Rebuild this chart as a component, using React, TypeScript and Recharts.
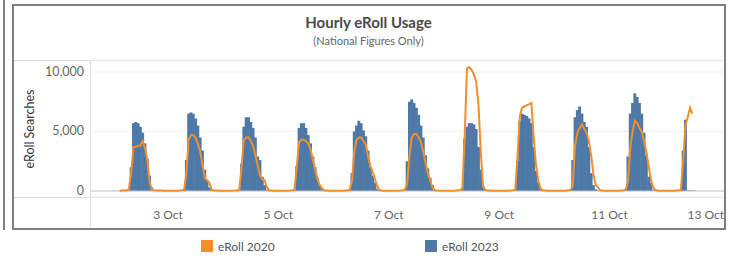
import { ComposedChart, Bar, Line, XAxis, YAxis, CartesianGrid, ReferenceLine } from 'recharts';

// one row per day, 24 hourly values (00:00 .. 23:00)
const dayLabels = ['2 Oct', '3 Oct', '4 Oct', '5 Oct', '6 Oct', '7 Oct', '8 Oct', '9 Oct', '10 Oct', '11 Oct', '12 Oct'];

const eRoll2023ByDay: number[][] = [
  [20, 15, 15, 15, 20, 30, 50, 120, 2000, 5700, 5800, 5700, 5400, 4900, 4000, 2700, 1300, 300, 80, 50, 40, 30, 30, 20],
  [15, 15, 15, 15, 20, 30, 50, 120, 2600, 6500, 6600, 6500, 6100, 5500, 4500, 3400, 1800, 900, 300, 100, 50, 40, 30, 20],
  [15, 15, 15, 15, 20, 30, 50, 120, 2300, 5400, 6200, 6200, 5800, 5300, 4500, 2900, 2600, 1200, 500, 100, 50, 40, 30, 20],
  [15, 15, 15, 15, 20, 30, 50, 120, 2100, 5300, 5700, 5700, 5300, 4700, 4000, 2900, 2000, 1100, 500, 150, 60, 40, 30, 20],
  [15, 15, 15, 15, 20, 30, 50, 120, 1500, 5000, 5500, 5900, 5700, 5100, 4600, 3400, 2000, 1300, 700, 150, 60, 40, 30, 20],
  [15, 15, 15, 15, 20, 30, 50, 120, 2500, 7500, 7700, 7400, 7000, 6400, 5500, 4500, 3000, 1900, 1100, 500, 100, 50, 30, 20],
  [15, 15, 15, 15, 20, 30, 50, 100, 300, 4400, 5400, 5700, 5700, 5600, 5200, 3700, 1800, 400, 80, 50, 40, 30, 30, 20],
  [15, 15, 15, 15, 20, 30, 50, 120, 2500, 5900, 6500, 6400, 6300, 6100, 5700, 3700, 1700, 700, 200, 60, 40, 30, 30, 20],
  [15, 15, 15, 15, 20, 30, 50, 120, 2600, 6200, 6800, 7100, 6500, 5800, 5400, 3700, 1500, 500, 150, 50, 40, 30, 30, 20],
  [15, 15, 15, 15, 20, 30, 50, 150, 2900, 6500, 7400, 8200, 7900, 7400, 6500, 4900, 3000, 1200, 700, 100, 50, 40, 30, 20],
  [15, 15, 15, 15, 20, 30, 50, 150, 3400, 6000, 60, 40, 40, 30],
];

const eRoll2020ByDay: (number | null)[][] = [
  [null, null, null, 30, 40, 50, 60, 150, 1500, 3700, 3700, 3800, 3800, 4200, 3600, 2600, 800, 100, 60, 50, 40, 40, 30, 30],
  [30, 30, 30, 30, 30, 40, 60, 100, 1500, 4300, 4700, 4700, 4500, 4000, 3300, 2200, 1100, 900, 700, 100, 50, 40, 30, 30],
  [30, 30, 30, 30, 30, 40, 60, 100, 2000, 4300, 4500, 4500, 4200, 3800, 3000, 2200, 1300, 1000, 900, 300, 50, 40, 30, 30],
  [30, 30, 30, 30, 30, 40, 60, 100, 2000, 4100, 4300, 4300, 4200, 4000, 3500, 2600, 1800, 1000, 500, 200, 50, 40, 30, 30],
  [30, 30, 30, 30, 30, 40, 60, 100, 800, 3300, 4300, 4500, 4500, 4200, 3900, 2900, 2100, 1600, 1000, 400, 80, 40, 30, 30],
  [30, 30, 30, 30, 30, 40, 60, 100, 600, 3000, 4500, 4800, 4800, 4500, 4100, 3300, 2400, 1500, 900, 300, 60, 40, 30, 30],
  [30, 30, 30, 30, 30, 40, 60, 80, 200, 4500, 10300, 10400, 10200, 9800, 9200, 7300, 3300, 400, 80, 50, 40, 30, 30, 30],
  [30, 30, 30, 30, 30, 40, 60, 100, 3000, 6300, 7000, 7100, 7200, 7300, 7400, 4600, 2200, 900, 200, 50, 40, 30, 30, 30],
  [30, 30, 30, 30, 30, 40, 60, 80, 400, 3800, 4900, 5300, 5600, 5200, 4900, 4200, 3000, 1400, 500, 300, 60, 40, 30, 30],
  [30, 30, 30, 30, 30, 40, 60, 100, 800, 3600, 5000, 5900, 5700, 5300, 5000, 4200, 3300, 2100, 900, 300, 80, 40, 30, 30],
  [30, 30, 30, 30, 30, 40, 60, 100, 2500, 5500, 6200, 7000, 6500],
];

const xTickHours = [24, 72, 120, 168, 216, 264];
const xTickLabels = ['3 Oct', '5 Oct', '7 Oct', '9 Oct', '11 Oct', '13 Oct'];
const yTicks = [0, 5000, 10000];

const ORANGE = '#f28e2b';
const BLUE = '#4e79a7';
const FONT = 'Lato, "Open Sans", sans-serif';

const rows: { hour: number; day: string; eRoll2023: number | null; eRoll2020: number | null }[] = [];
dayLabels.forEach((day, d) => {
  const len = Math.max(eRoll2023ByDay[d].length, eRoll2020ByDay[d].length);
  for (let h = 0; h < len; h++) {
    rows.push({
      hour: d * 24 + h,
      day,
      eRoll2023: eRoll2023ByDay[d][h] ?? null,
      eRoll2020: eRoll2020ByDay[d][h] ?? null,
    });
  }
});

const XTick = (props: any) => {
  const { x, payload } = props;
  const i = xTickHours.indexOf(payload.value);
  const last = i === xTickHours.length - 1;
  return (
    <text x={last ? 724 : x} y={219} textAnchor={last ? 'end' : 'middle'} fill="#666" fontSize={12} fontFamily={FONT}>
      {xTickLabels[i]}
    </text>
  );
};

const YTick = (props: any) => {
  const { y, payload } = props;
  return (
    <text x={84} y={y} dy={4} textAnchor="end" fill="#666" fontSize={12.5} fontFamily={FONT}>
      {payload.value.toLocaleString('en-US')}
    </text>
  );
};

// hourly bars drawn slightly wider so neighbours join without seams
const HourBar = (props: any) => {
  const { x, y, width, height } = props;
  if (!height || height <= 0) return null;
  const cx = x + width / 2;
  return <rect x={cx - 1.45} y={y} width={2.9} height={height} fill={BLUE} />;
};

export default function App() {
  return (
    <div style={{ position: 'absolute', left: 0, top: 0, width: 729, height: 259, background: '#fff', fontFamily: FONT }}>
      <svg width={729} height={259} style={{ position: 'absolute', left: 0, top: 0 }}>
        <line x1={13} y1={60.5} x2={724} y2={60.5} stroke="#dcdcdc" />
        <line x1={13} y1={197.5} x2={724} y2={197.5} stroke="#dcdcdc" />
        <line x1={90.5} y1={60} x2={90.5} y2={229} stroke="#dcdcdc" />
        <text x={368.5} y={28} textAnchor="middle" fontSize={15} fontWeight={700} fill="#4a4a4a">
          Hourly eRoll Usage
        </text>
        <text x={368.5} y={45} textAnchor="middle" fontSize={11} fill="#666">
          (National Figures Only)
        </text>
        <text transform="translate(34,129) rotate(-90)" textAnchor="middle" fontSize={12.5} fill="#333">
          eRoll Searches
        </text>
        <rect x={201} y={240} width={12} height={12} fill={ORANGE} />
        <text x={218} y={250.5} fontSize={12} fill="#555">eRoll 2020</text>
        <rect x={425} y={240} width={12} height={12} fill={BLUE} />
        <text x={442} y={250.5} fontSize={12} fill="#555">eRoll 2023</text>
      </svg>
      <div style={{ position: 'absolute', left: 0, top: 0 }}>
        <ComposedChart width={729} height={259} data={rows} margin={{ top: 60, right: 4, bottom: 0, left: 0 }}>
          <CartesianGrid vertical={false} stroke="#f1f1f1" />
          <XAxis
            dataKey="hour"
            type="number"
            domain={[-9.9, 266.2]}
            allowDataOverflow
            ticks={xTickHours}
            interval={0}
            tick={<XTick />}
            height={62}
            axisLine={false}
            tickLine={false}
          />
          <YAxis
            type="number"
            domain={[-504, 11008]}
            allowDataOverflow
            ticks={yTicks}
            interval={0}
            tick={<YTick />}
            width={90}
            axisLine={false}
            tickLine={false}
          />
          <ReferenceLine y={0} stroke="#c8c8c8" />
          <Bar dataKey="eRoll2023" fill={BLUE} barSize={2.29} shape={<HourBar />} isAnimationActive={false} />
          <Line
            dataKey="eRoll2020"
            type="linear"
            stroke={ORANGE}
            strokeWidth={2}
            dot={false}
            isAnimationActive={false}
          />
        </ComposedChart>
      </div>
      <svg width={729} height={259} style={{ position: 'absolute', left: 0, top: 0, pointerEvents: 'none' }}>
        <line x1={4} y1={0} x2={4} y2={230} stroke="#808080" strokeWidth={2} />
        <rect x={13} y={5} width={712} height={224} fill="none" stroke="#808080" strokeWidth={2} />
      </svg>
    </div>
  );
}
